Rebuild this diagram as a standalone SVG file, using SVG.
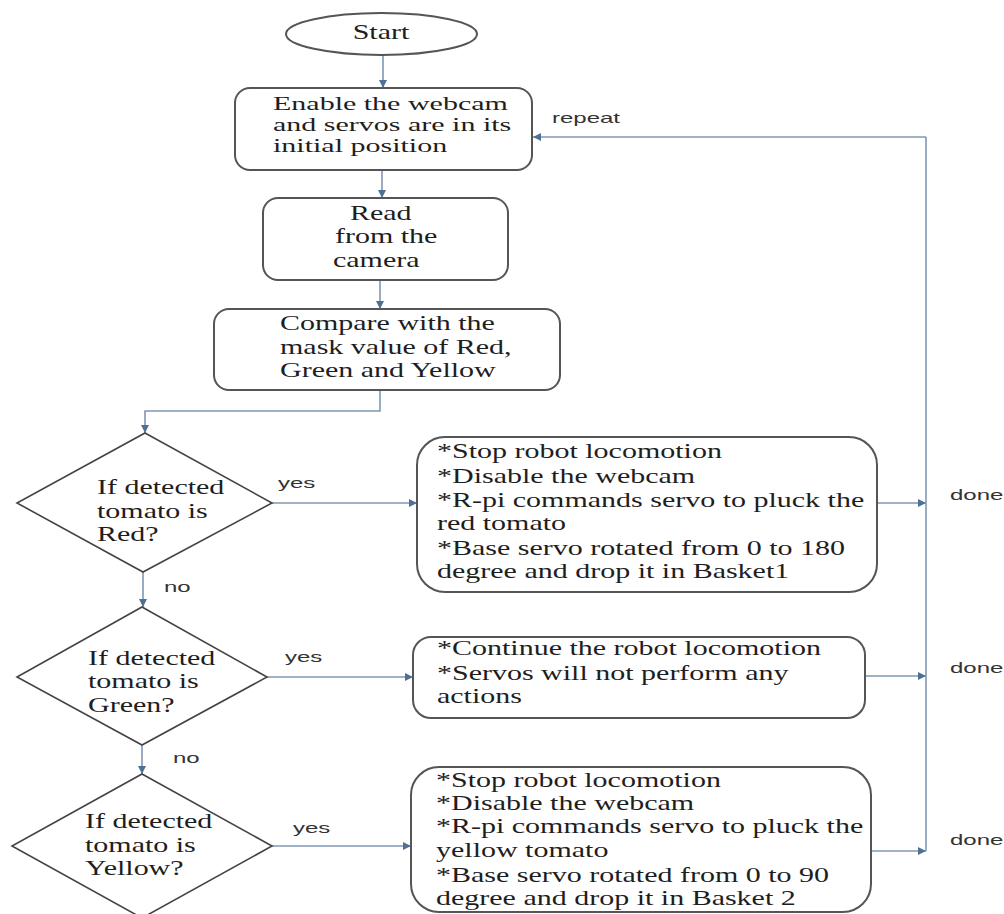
<svg xmlns="http://www.w3.org/2000/svg" width="1004" height="914" viewBox="0 0 1004 914">
<defs>
<style>
.box{fill:#fff;stroke:#555;stroke-width:2}
.dia{fill:#fff;stroke:#444;stroke-width:1.6}
.t{font-family:"Liberation Serif","Times New Roman",serif;font-size:20px;fill:#1e1e1e}
.t18{font-family:"Liberation Serif","Times New Roman",serif;font-size:18px;fill:#1e1e1e}
.lbl{font-family:"Liberation Sans",Arial,sans-serif;font-size:15px;fill:#333}
.ln{fill:none;stroke:#7f97b3;stroke-width:1.6}
.lna{fill:none;stroke:#7f97b3;stroke-width:1.6;marker-end:url(#ah)}
</style>
<marker id="ah" viewBox="0 0 10 10" refX="10" refY="5" markerWidth="9" markerHeight="8" markerUnits="userSpaceOnUse" orient="auto">
<path d="M0,0 L10,5 L0,10 z" fill="#4f7096"/>
</marker>
</defs>
<rect width="1004" height="914" fill="#fff"/>

<g id="connectors">
<line class="lna" x1="383" y1="55" x2="383" y2="88"/>
<line class="lna" x1="382" y1="170" x2="382" y2="198"/>
<line class="lna" x1="380" y1="280" x2="380" y2="309"/>
<polyline class="lna" points="380,390 380,411 145,411 145,433"/>
<line class="lna" x1="272" y1="503" x2="417" y2="503"/>
<line class="lna" x1="143" y1="572" x2="143" y2="607"/>
<line class="lna" x1="267" y1="677" x2="413" y2="677"/>
<line class="lna" x1="142" y1="745" x2="142" y2="774"/>
<line class="lna" x1="272" y1="846" x2="411" y2="846"/>
<line class="lna" x1="877" y1="503" x2="926" y2="503"/>
<line class="lna" x1="865" y1="676" x2="926" y2="676"/>
<line class="lna" x1="871" y1="851" x2="926" y2="851"/>
<line class="ln" x1="926" y1="851" x2="926" y2="137"/>
<line class="lna" x1="926" y1="137" x2="533" y2="137"/>
<text class="lbl" transform="translate(552,0) scale(1.6,1)" x="0" y="123">repeat</text>
<text class="lbl" transform="translate(278,0) scale(1.6,1)" x="0" y="488">yes</text>
<text class="lbl" transform="translate(285,0) scale(1.6,1)" x="0" y="662">yes</text>
<text class="lbl" transform="translate(293,0) scale(1.6,1)" x="0" y="833">yes</text>
<text class="lbl" transform="translate(164,0) scale(1.6,1)" x="0" y="592">no</text>
<text class="lbl" transform="translate(173,0) scale(1.6,1)" x="0" y="763">no</text>
<text class="lbl" transform="translate(950,0) scale(1.6,1)" x="0" y="500">done</text>
<text class="lbl" transform="translate(950,0) scale(1.6,1)" x="0" y="673">done</text>
<text class="lbl" transform="translate(950,0) scale(1.6,1)" x="0" y="845">done</text>
</g>

<g id="start">
<ellipse cx="381.5" cy="34" rx="95.5" ry="21" class="box"/>
<text class="t" transform="translate(381,0) scale(1.5,1)" x="0" y="39" text-anchor="middle">Start</text>
</g>

<g id="enable">
<rect class="box" x="235" y="88" width="297" height="82" rx="15"/>
<text class="t18" transform="translate(273,0) scale(1.667,1)">
<tspan x="0" y="110">Enable the webcam</tspan>
<tspan x="0" y="131">and servos are in its</tspan>
<tspan x="0" y="152">initial position</tspan>
</text>
</g>

<g id="read">
<rect class="box" x="263" y="198" width="245" height="82" rx="15"/>
<text class="t" transform="translate(333,0) scale(1.5,1)">
<tspan x="11.3" y="220">Read</tspan>
<tspan x="1.3" y="243">from the</tspan>
<tspan x="0" y="267">camera</tspan>
</text>
</g>

<g id="compare">
<rect class="box" x="214" y="309" width="346" height="81" rx="15"/>
<text class="t" transform="translate(280,0) scale(1.5,1)">
<tspan x="0" y="330">Compare with the</tspan>
<tspan x="0" y="354">mask value of Red,</tspan>
<tspan x="0" y="377">Green and Yellow</tspan>
</text>
</g>

<g id="red-decision">
<polygon class="dia" points="145,433 272,503 143,572 17,503"/>
<text class="t" transform="translate(97,0) scale(1.5,1)">
<tspan x="0" y="494">If detected</tspan>
<tspan x="0" y="518">tomato is</tspan>
<tspan x="0" y="541">Red?</tspan>
</text>
</g>

<g id="red-action">
<rect class="box" x="417" y="437" width="460" height="155" rx="28"/>
<text class="t" transform="translate(437,0) scale(1.5,1)">
<tspan x="0" y="458">*Stop robot locomotion</tspan>
<tspan x="0" y="483">*Disable the webcam</tspan>
<tspan x="0" y="507">*R-pi commands servo to pluck the</tspan>
<tspan x="0" y="530">red tomato</tspan>
<tspan x="0" y="555">*Base servo rotated from 0 to 180</tspan>
<tspan x="0" y="578">degree and drop it in Basket1</tspan>
</text>
</g>

<g id="green-decision">
<polygon class="dia" points="142,607 267,677 142,745 17,677"/>
<text class="t" transform="translate(88,0) scale(1.5,1)">
<tspan x="0" y="665">If detected</tspan>
<tspan x="0" y="688">tomato is</tspan>
<tspan x="0" y="712">Green?</tspan>
</text>
</g>

<g id="green-action">
<rect class="box" x="413" y="637" width="452" height="81" rx="18"/>
<text class="t" transform="translate(437,0) scale(1.5,1)">
<tspan x="0" y="655">*Continue the robot locomotion</tspan>
<tspan x="0" y="680">*Servos will not perform any</tspan>
<tspan x="0" y="703">actions</tspan>
</text>
</g>

<g id="yellow-decision">
<polygon class="dia" points="142,774 272,846 142,918 12,846"/>
<text class="t" transform="translate(85,0) scale(1.5,1)">
<tspan x="0" y="828">If detected</tspan>
<tspan x="0" y="852">tomato is</tspan>
<tspan x="0" y="875">Yellow?</tspan>
</text>
</g>

<g id="yellow-action">
<rect class="box" x="411" y="767" width="460" height="145" rx="28"/>
<text class="t" transform="translate(436,0) scale(1.5,1)">
<tspan x="0" y="787">*Stop robot locomotion</tspan>
<tspan x="0" y="810">*Disable the webcam</tspan>
<tspan x="0" y="833">*R-pi commands servo to pluck the</tspan>
<tspan x="0" y="857">yellow tomato</tspan>
<tspan x="0" y="882">*Base servo rotated from 0 to 90</tspan>
<tspan x="0" y="905">degree and drop it in Basket 2</tspan>
</text>
</g>
</svg>
